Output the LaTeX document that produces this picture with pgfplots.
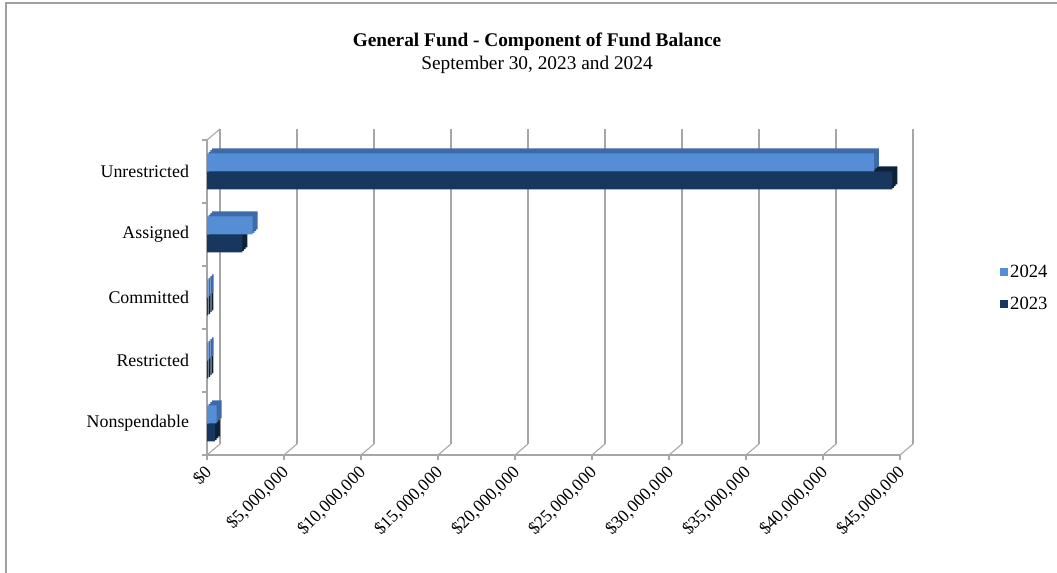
\documentclass[border=0pt]{standalone}
\usepackage{fontspec}
\setmainfont{Liberation Serif}
\usepackage{pgfplots}
\usepackage{pgfplotstable}
\pgfplotsset{compat=1.18}
\definecolor{c24}{HTML}{558ED5}
\definecolor{c24d}{HTML}{3D6BAA}
\definecolor{c23}{HTML}{17375E}
\definecolor{c23d}{HTML}{0D2138}
\definecolor{gridgray}{HTML}{A6A6A6}
\definecolor{framegray}{HTML}{A0A0A0}

\pgfplotstableread{
cat y2024 y2023
0 630000 520000
1 100000 90000
2 100000 90000
3 2970000 2290000
4 43300000 44500000
}\data

\pgfplotsset{
  depth/.style={xbar, bar width=0.2857, draw=none, forget plot},
}

\begin{document}
\begin{tikzpicture}
\path[use as bounding box] (0,0) rectangle (792.75pt,429.75pt);
\draw[framegray, line width=1.2pt] (4.5pt,0) -- (4.5pt,427.5pt) -- (792.75pt,427.5pt);
\node[font=\bfseries\fontsize{14.5}{17}\selectfont] at (402.75pt,398.25pt) {General Fund - Component of Fund Balance};
\node[font=\fontsize{14.5}{17}\selectfont] at (402.75pt,381pt) {September 30, 2023 and 2024};

% back wall
\begin{axis}[at={(165pt,96.75pt)}, anchor=south west, scale only axis,
  width=519.75pt, height=236.25pt,
  xmin=0, xmax=45e6, ymin=-0.5, ymax=4.5,
  scaled x ticks=false,
  xtick={0,5e6,10e6,15e6,20e6,25e6,30e6,35e6,40e6,45e6},
  xticklabels={}, ytick=\empty,
  xmajorgrids, grid style={gridgray, line width=0.8pt},
  major tick length=0pt, axis line style={draw=none}]
\draw[gridgray, line width=0.8pt] (rel axis cs:0,0) -- (rel axis cs:0,1);
\end{axis}

% front
\begin{axis}[at={(155.25pt,88.5pt)}, anchor=south west, scale only axis,
  width=519.75pt, height=236.25pt,
  xmin=0, xmax=45e6, ymin=-0.5, ymax=4.5, clip=false,
  scaled x ticks=false,
  axis lines*=left, axis line style={gridgray, line width=0.8pt, -},
  tick style={gridgray, line width=0.8pt}, tick align=outside, major tick length=4pt,
  xtick={0,5e6,10e6,15e6,20e6,25e6,30e6,35e6,40e6,45e6},
  xticklabels={{\$0},{\$5,000,000},{\$10,000,000},{\$15,000,000},{\$20,000,000},{\$25,000,000},{\$30,000,000},{\$35,000,000},{\$40,000,000},{\$45,000,000}},
  xticklabel style={rotate=45, anchor=north east, font=\fontsize{13.2}{15}\selectfont, inner sep=1pt, xshift=-3pt, yshift=1pt},
  ytick={-0.5,0.5,1.5,2.5,3.5,4.5},
  yticklabels={,,,,,},
  extra y ticks={0,1,2,3,4},
  extra y tick labels={Nonspendable,Restricted,Committed,Assigned,Unrestricted},
  extra y tick style={major tick length=0pt},
  yticklabel style={font=\fontsize{13.4}{16}\selectfont, xshift=-10pt},
  reverse legend,
  legend style={at={(1.144,0.53)}, anchor=west, draw=none, fill=none,
    font=\fontsize{14}{16}\selectfont, row sep=9pt, inner sep=0pt,
    cells={anchor=west}},
  legend image code/.code={\fill[#1] (0pt,-2.9pt) rectangle (5.6pt,2.9pt);},
]
\pgfplotsinvokeforeach{0,5e6,10e6,15e6,20e6,25e6,30e6,35e6,40e6,45e6}{
  \draw[gridgray, line width=0.8pt] (axis cs:#1,-0.5) -- ++(9.75pt,8.25pt);
}
\draw[gridgray, line width=0.8pt] (axis cs:0,4.5) -- ++(9.75pt,8.25pt);
% 2023: depth (extruded) then front face
\addplot[depth, bar shift=-0.1429, fill=c23d, xshift=3.75pt, yshift=3.75pt] table[x=y2023,y=cat]{\data};
\addplot[depth, bar shift=-0.1429, fill=c23d, xshift=2.5pt, yshift=2.5pt] table[x=y2023,y=cat]{\data};
\addplot[depth, bar shift=-0.1429, fill=c23d, xshift=1.25pt, yshift=1.25pt] table[x=y2023,y=cat]{\data};
\addplot[xbar, bar width=0.2857, bar shift=-0.1429, fill=c23, draw=none] table[x=y2023,y=cat]{\data};
% 2024
\addplot[depth, bar shift=0.1429, fill=c24d, xshift=3.75pt, yshift=3.75pt] table[x=y2024,y=cat]{\data};
\addplot[depth, bar shift=0.1429, fill=c24d, xshift=2.5pt, yshift=2.5pt] table[x=y2024,y=cat]{\data};
\addplot[depth, bar shift=0.1429, fill=c24d, xshift=1.25pt, yshift=1.25pt] table[x=y2024,y=cat]{\data};
\addplot[xbar, bar width=0.2857, bar shift=0.1429, fill=c24, draw=none] table[x=y2024,y=cat]{\data};
\legend{2023,2024}
\end{axis}
\end{tikzpicture}
\end{document}
